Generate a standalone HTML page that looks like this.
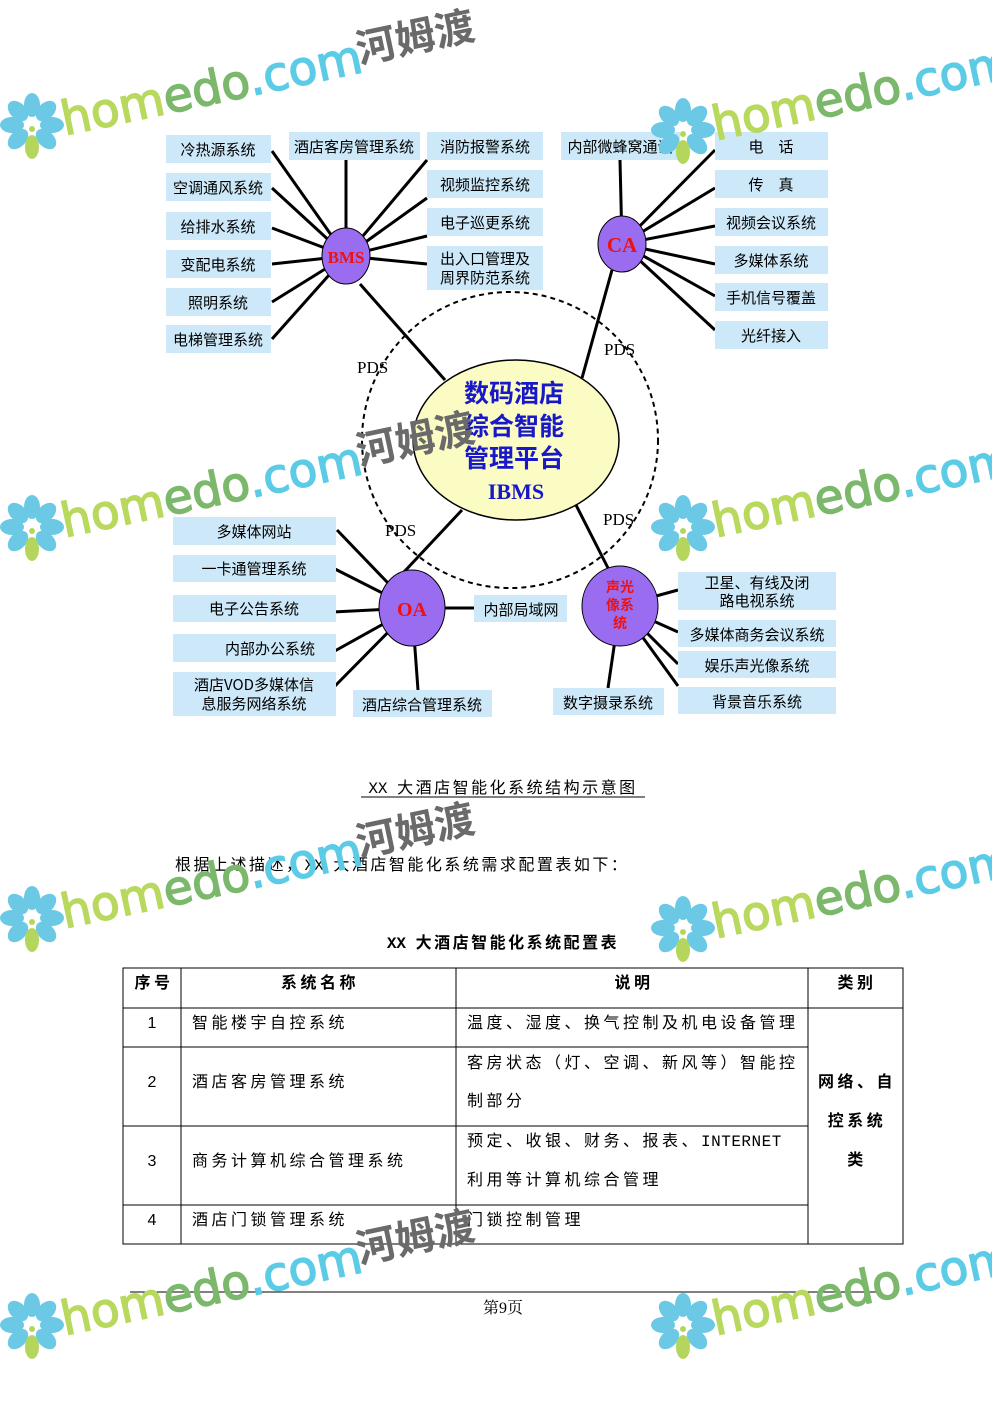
<!DOCTYPE html>
<html><head><meta charset="utf-8"><style>
html,body{margin:0;padding:0;background:#fff;}
body{width:992px;height:1403px;position:relative;overflow:hidden;font-family:"Liberation Sans","Noto Sans CJK SC",sans-serif;}
svg{position:absolute;left:0;top:0;}
</style></head><body>
<svg width="992" height="1403" viewBox="0 0 992 1403" xmlns="http://www.w3.org/2000/svg" font-family="'Liberation Sans','Noto Sans CJK SC',sans-serif">
<defs>
<g id="wm">
  <g fill="#6cc9e6">
    <ellipse cx="0" cy="-20" rx="8" ry="12"/>
    <ellipse cx="14" cy="-14" rx="8" ry="12" transform="rotate(45 14 -14)"/>
    <ellipse cx="20" cy="0" rx="12" ry="8"/>
    <ellipse cx="14" cy="14" rx="8" ry="12" transform="rotate(-45 14 14)"/>
    <ellipse cx="-14" cy="14" rx="8" ry="12" transform="rotate(45 -14 14)"/>
    <ellipse cx="-20" cy="0" rx="12" ry="8"/>
    <ellipse cx="-14" cy="-14" rx="8" ry="12" transform="rotate(-45 -14 -14)"/>
  </g>
  <ellipse cx="0" cy="22" rx="7" ry="12" fill="#b5d65c"/>
  <circle cx="0" cy="4" r="3" fill="#b5d65c"/>
  <g transform="rotate(-12)">
    <text x="30" y="17" font-size="47" font-family="'DejaVu Sans',sans-serif" stroke-width="1.5"><tspan fill="#b8d85e" stroke="#b8d85e">hom</tspan><tspan fill="#7cb86c" stroke="#7cb86c">edo</tspan><tspan fill="#5ccbe6" stroke="#5ccbe6">.com</tspan></text>
    <text x="333" y="8" font-size="40" font-weight="bold" fill="#6a6a6a" font-family="'Noto Sans CJK SC',sans-serif">河姆渡</text>
  </g>
</g>
</defs>

<circle cx="510" cy="440" r="148" fill="none" stroke="#000" stroke-width="2" stroke-dasharray="5,4"/>

<g stroke="#000" stroke-width="3" stroke-linecap="butt">
  <line x1="360" y1="284" x2="445" y2="380"/>
  <line x1="612" y1="270" x2="582" y2="378"/>
  <line x1="403" y1="573" x2="462" y2="510"/>
  <line x1="608" y1="568" x2="576" y2="505"/>
  <line x1="346" y1="256" x2="272" y2="151"/>
  <line x1="346" y1="256" x2="272" y2="188"/>
  <line x1="346" y1="256" x2="272" y2="228"/>
  <line x1="346" y1="256" x2="272" y2="264"/>
  <line x1="346" y1="256" x2="272" y2="302"/>
  <line x1="346" y1="256" x2="272" y2="339"/>
  <line x1="346" y1="256" x2="346" y2="160"/>
  <line x1="346" y1="256" x2="427" y2="160"/>
  <line x1="346" y1="256" x2="427" y2="198"/>
  <line x1="346" y1="256" x2="427" y2="236"/>
  <line x1="346" y1="256" x2="427" y2="264"/>
  <line x1="622" y1="244" x2="620" y2="160"/>
  <line x1="622" y1="244" x2="715" y2="150"/>
  <line x1="622" y1="244" x2="715" y2="188"/>
  <line x1="622" y1="244" x2="715" y2="226"/>
  <line x1="622" y1="244" x2="715" y2="264"/>
  <line x1="622" y1="244" x2="715" y2="296"/>
  <line x1="622" y1="244" x2="715" y2="330"/>
  <line x1="412" y1="608" x2="337" y2="530"/>
  <line x1="412" y1="608" x2="333" y2="568"/>
  <line x1="412" y1="608" x2="333" y2="612"/>
  <line x1="412" y1="608" x2="333" y2="652"/>
  <line x1="412" y1="608" x2="333" y2="688"/>
  <line x1="412" y1="608" x2="478" y2="608"/>
  <line x1="412" y1="608" x2="418" y2="690"/>
  <line x1="620" y1="606" x2="678" y2="590"/>
  <line x1="620" y1="606" x2="678" y2="632"/>
  <line x1="620" y1="606" x2="678" y2="664"/>
  <line x1="620" y1="606" x2="678" y2="686"/>
  <line x1="620" y1="606" x2="608" y2="688"/>
</g>

<ellipse cx="516" cy="440" rx="103" ry="80" fill="#fbfbc4" stroke="#000" stroke-width="1.5"/>
<g font-size="25" font-weight="bold" fill="#1818c8" text-anchor="middle" font-family="'Noto Sans CJK SC',sans-serif">
  <text x="514" y="402">数码酒店</text>
  <text x="514" y="435">综合智能</text>
  <text x="514" y="467">管理平台</text>
  <text x="516" y="499" font-family="'Liberation Serif',serif" font-size="22">IBMS</text>
</g>

<g fill="#9a6cf0" stroke="#000" stroke-width="1">
  <ellipse cx="346" cy="256" rx="24" ry="28"/>
  <ellipse cx="622" cy="244" rx="24" ry="28"/>
  <ellipse cx="412" cy="608" rx="33" ry="38"/>
  <ellipse cx="620" cy="606" rx="38" ry="40"/>
</g>
<g fill="#ee1111" font-weight="bold" text-anchor="middle" font-family="'Liberation Serif',serif">
  <text x="346" y="263" font-size="17">BMS</text>
  <text x="622" y="252" font-size="21">CA</text>
  <text x="412" y="616" font-size="20">OA</text>
  <g font-size="14" font-family="'Noto Sans CJK SC',sans-serif"><text x="620" y="592">声光</text><text x="620" y="610">像系</text><text x="620" y="628">统</text></g>
</g>

<g font-family="'Liberation Serif',serif" font-size="17" fill="#000">
  <text x="357" y="373">PDS</text><text x="604" y="355">PDS</text>
  <text x="385" y="536">PDS</text><text x="603" y="525">PDS</text>
</g>

<g fill="#cde9f9">
  <rect x="166" y="135" width="105" height="28"/><rect x="166" y="173" width="105" height="28"/>
  <rect x="166" y="212" width="105" height="28"/><rect x="166" y="250" width="105" height="28"/>
  <rect x="166" y="288" width="105" height="28"/><rect x="166" y="325" width="105" height="28"/>
  <rect x="289" y="132" width="131" height="28"/>
  <rect x="427" y="132" width="116" height="28"/><rect x="427" y="170" width="116" height="28"/>
  <rect x="427" y="208" width="116" height="28"/><rect x="427" y="246" width="116" height="44"/>
  <rect x="561" y="132" width="119" height="28"/>
  <rect x="715" y="132" width="113" height="28"/><rect x="715" y="170" width="113" height="28"/>
  <rect x="715" y="208" width="113" height="28"/><rect x="715" y="246" width="113" height="28"/>
  <rect x="715" y="283" width="113" height="28"/><rect x="715" y="321" width="113" height="28"/>
  <rect x="173" y="517" width="163" height="28"/><rect x="173" y="555" width="163" height="27"/>
  <rect x="173" y="595" width="163" height="27"/><rect x="173" y="634" width="163" height="28"/>
  <rect x="173" y="672" width="163" height="44"/>
  <rect x="353" y="690" width="139" height="27"/>
  <rect x="474" y="595" width="93" height="27"/>
  <rect x="678" y="572" width="158" height="38"/><rect x="678" y="620" width="158" height="27"/>
  <rect x="678" y="651" width="158" height="27"/><rect x="678" y="687" width="158" height="27"/>
  <rect x="553" y="688" width="111" height="27"/>
</g>
<g font-size="15" fill="#000" text-anchor="middle" font-family="'Noto Sans CJK SC',sans-serif">
  <text x="218" y="155">冷热源系统</text><text x="218" y="193">空调通风系统</text>
  <text x="218" y="232">给排水系统</text><text x="218" y="270">变配电系统</text>
  <text x="218" y="308">照明系统</text><text x="218" y="345">电梯管理系统</text>
  <text x="354" y="152">酒店客房管理系统</text>
  <text x="485" y="152">消防报警系统</text><text x="485" y="190">视频监控系统</text>
  <text x="485" y="228">电子巡更系统</text>
  <text x="485" y="264">出入口管理及</text><text x="485" y="283">周界防范系统</text>
  <text x="620" y="152">内部微蜂窝通讯</text>
  <text x="771" y="152">电　话</text><text x="771" y="190">传　真</text>
  <text x="771" y="228">视频会议系统</text><text x="771" y="266">多媒体系统</text>
  <text x="771" y="303">手机信号覆盖</text><text x="771" y="341">光纤接入</text>
  <text x="254" y="537">多媒体网站</text><text x="254" y="574">一卡通管理系统</text>
  <text x="254" y="614">电子公告系统</text><text x="270" y="654">内部办公系统</text>
  <text x="254" y="690">酒店VOD多媒体信</text><text x="254" y="709">息服务网络系统</text>
  <text x="422" y="710">酒店综合管理系统</text>
  <text x="521" y="615">内部局域网</text>
  <text x="757" y="588">卫星、有线及闭</text><text x="757" y="606">路电视系统</text>
  <text x="757" y="640">多媒体商务会议系统</text><text x="757" y="671">娱乐声光像系统</text>
  <text x="757" y="707">背景音乐系统</text>
  <text x="608" y="708">数字摄录系统</text>
</g>

<g font-size="16" fill="#000" font-family="'Liberation Mono','Noto Sans CJK SC',monospace" letter-spacing="2.5">
  <text x="503" y="793" text-anchor="middle"><tspan letter-spacing="0">XX </tspan>大酒店智能化系统结构示意图</text>
  <line x1="361" y1="797" x2="645" y2="797" stroke="#000" stroke-width="1"/>
  <text x="175" y="870">根据上述描述，<tspan letter-spacing="0">XX </tspan>大酒店智能化系统需求配置表如下：</text>
  <text x="503" y="948" text-anchor="middle" font-weight="bold"><tspan letter-spacing="0">XX </tspan>大酒店智能化系统配置表</text>
</g>

<g stroke="#000" stroke-width="1" fill="none">
  <rect x="123" y="968" width="780" height="276"/>
  <line x1="181" y1="968" x2="181" y2="1244"/>
  <line x1="456" y1="968" x2="456" y2="1244"/>
  <line x1="808" y1="968" x2="808" y2="1244"/>
  <line x1="123" y1="1008" x2="903" y2="1008"/>
  <line x1="123" y1="1047" x2="808" y2="1047"/>
  <line x1="123" y1="1126" x2="808" y2="1126"/>
  <line x1="123" y1="1205" x2="808" y2="1205"/>
</g>
<g font-size="16" fill="#000" font-family="'Liberation Mono','Noto Sans CJK SC',monospace" letter-spacing="3.5">
  <g font-weight="bold" text-anchor="middle">
    <text x="154" y="988">序号</text><text x="320" y="988">系统名称</text>
    <text x="634" y="988">说明</text><text x="857" y="988">类别</text>
    <text x="857" y="1087">网络、自</text><text x="857" y="1126">控系统</text><text x="857" y="1165">类</text>
  </g>
  <g text-anchor="middle" font-family="'Liberation Sans',sans-serif" letter-spacing="0">
    <text x="152" y="1028">1</text><text x="152" y="1087">2</text><text x="152" y="1166">3</text><text x="152" y="1225">4</text>
  </g>
  <text x="192" y="1028">智能楼宇自控系统</text>
  <text x="192" y="1087">酒店客房管理系统</text>
  <text x="192" y="1166">商务计算机综合管理系统</text>
  <text x="192" y="1225">酒店门锁管理系统</text>
  <text x="467" y="1028">温度、湿度、换气控制及机电设备管理</text>
  <text x="467" y="1068">客房状态（灯、空调、新风等）智能控</text>
  <text x="467" y="1106">制部分</text>
  <text x="467" y="1146">预定、收银、财务、报表、<tspan letter-spacing="0.5">INTERNET</tspan></text>
  <text x="467" y="1185">利用等计算机综合管理</text>
  <text x="467" y="1225">门锁控制管理</text>
</g>

<line x1="130" y1="1292" x2="880" y2="1292" stroke="#000" stroke-width="1"/>
<text x="503" y="1313" text-anchor="middle" font-size="16" font-family="'Liberation Serif','Noto Serif CJK SC',serif">第9页</text>

<use href="#wm" transform="translate(32,125)"/>
<use href="#wm" transform="translate(683,130)"/>
<use href="#wm" transform="translate(32,527)"/>
<use href="#wm" transform="translate(683,527)"/>
<use href="#wm" transform="translate(32,918)"/>
<use href="#wm" transform="translate(683,928)"/>
<use href="#wm" transform="translate(32,1325)"/>
<use href="#wm" transform="translate(683,1325)"/>
</svg>
</body></html>
